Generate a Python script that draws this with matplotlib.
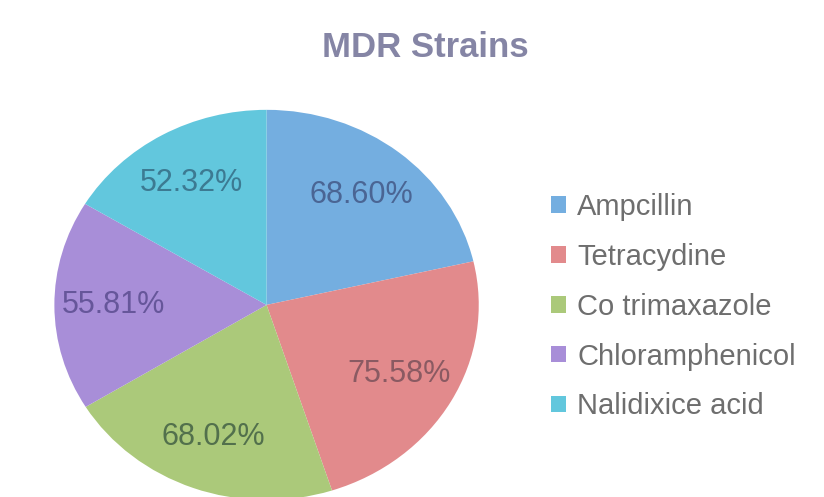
import numpy as np
import matplotlib.pyplot as plt

plt.rcParams['font.family'] = ['Liberation Sans', 'DejaVu Sans']

drugs = ['Ampcillin', 'Tetracydine', 'Co trimaxazole', 'Chloramphenicol', 'Nalidixice acid']
resistance = [68.60, 75.58, 68.02, 55.81, 52.32]
colors = ['#74aee0', '#e28a8c', '#abc97a', '#a88ed8', '#62c7dd']
text_colors = ['#4a6594', '#8a5a62', '#52704c', '#66569a', '#3c7a92']

fig = plt.figure(figsize=(8.24, 4.97), dpi=100)
ax = fig.add_axes([0.066, -0.006, 0.515, 0.785])

wedges, texts = ax.pie(resistance, colors=colors, startangle=90,
                       counterclock=False, wedgeprops=dict(linewidth=0))

# percentage labels inside the wedges
for w, v, tc in zip(wedges, resistance, text_colors):
    ang = np.deg2rad((w.theta1 + w.theta2) / 2)
    ax.text(0.72 * np.cos(ang), 0.72 * np.sin(ang), f'{v:.2f}%',
            ha='center', va='center', fontsize=22, color=tc)

ax.set_aspect('auto')
ax.set_xlim(-1, 1)
ax.set_ylim(-1, 1)
ax.axis('off')

fig.text(0.516, 0.905, 'MDR Strains', ha='center', va='center',
         fontsize=25, fontweight='bold', color='#8585a5')

fig.legend(wedges, drugs, loc='center left', bbox_to_anchor=(0.637, 0.383),
           frameon=False, fontsize=21, labelcolor='#6e6e6e',
           handlelength=0.5, handleheight=0.5, handletextpad=0.4,
           labelspacing=0.75)

plt.savefig('out.png', dpi=100)
